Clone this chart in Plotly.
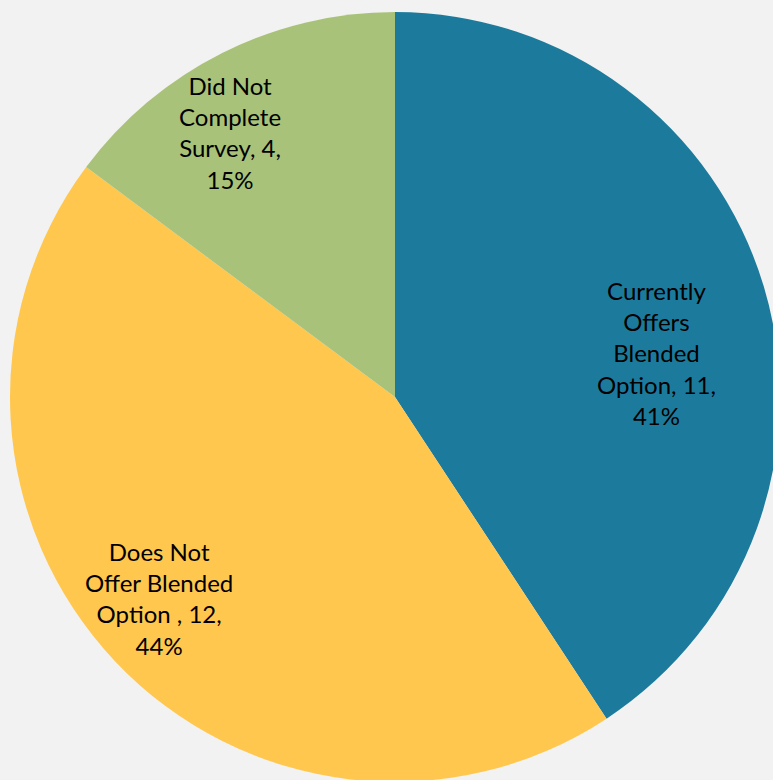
import plotly.graph_objects as go

# Survey responses on blended-option offerings
categories = [
    "Currently<br>Offers<br>Blended<br>Option",
    "Does Not<br>Offer Blended<br>Option ",
    "Did Not<br>Complete<br>Survey",
]
counts = [11, 12, 4]
colors = ["#1C7B9C", "#FFC74E", "#A9C279"]

total = sum(counts)
label_text = [
    f"{c}, {n},<br>{round(100 * n / total)}%" for c, n in zip(categories, counts)
]

# Figure canvas (slightly larger than the viewport so the pie bleeds off the right/bottom)
W, H = 790, 794
# Label anchor points in pixels (x from left, y from top)
label_px = [(656, 353), (159, 598), (230, 132)]

fig = go.Figure(
    go.Pie(
        labels=[c.replace("<br>", " ") for c in categories],
        values=counts,
        textinfo="none",
        sort=False,
        direction="clockwise",
        rotation=0,
        marker=dict(colors=colors, line=dict(width=0)),
        domain=dict(x=[10 / W, 780 / W], y=[12 / H, 782 / H]),
        hoverinfo="label+value+percent",
    )
)

for txt, (px, py) in zip(label_text, label_px):
    fig.add_annotation(
        text=txt,
        x=px / W,
        y=1 - py / H,
        xref="paper",
        yref="paper",
        xanchor="center",
        yanchor="middle",
        align="center",
        showarrow=False,
        font=dict(family="Lato, 'Open Sans', sans-serif", size=24, color="#000000"),
    )

fig.update_layout(
    width=W,
    height=H,
    margin=dict(l=0, r=0, t=0, b=0),
    paper_bgcolor="#F2F2F2",
    plot_bgcolor="#F2F2F2",
    showlegend=False,
)

fig.write_html(
    "out.html",
    post_script="document.body.style.margin='0';document.body.style.overflow='hidden';"
    "document.documentElement.style.overflow='hidden';",
)
